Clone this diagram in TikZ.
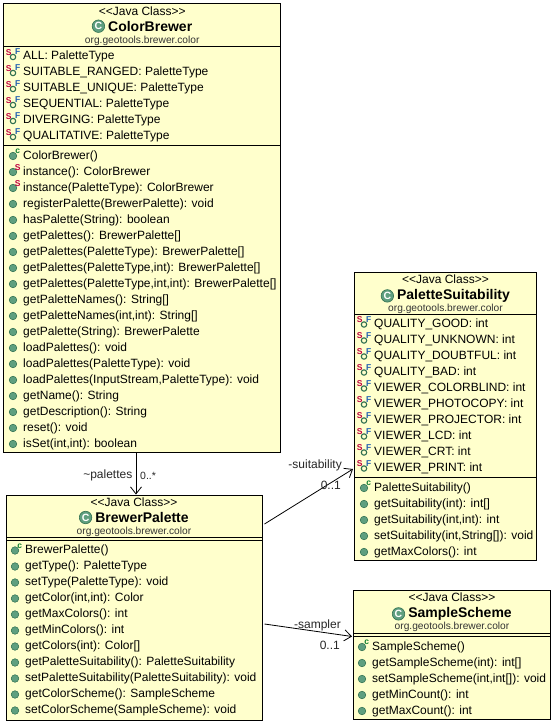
\documentclass[tikz,border=0pt]{standalone}
\usepackage{fontspec}
\setmainfont{Liberation Sans}
\usetikzlibrary{positioning, arrows.meta}

\definecolor{boxyellow}{HTML}{FFFFCC}
\definecolor{icongreen}{HTML}{5F9F7F}
\definecolor{iconedge}{HTML}{2F6F4F}
\definecolor{markred}{HTML}{C00040}
\definecolor{markblue}{HTML}{2060B0}
\definecolor{markgreen}{HTML}{108030}

\tikzset{
    classbox/.style={rectangle, draw=black, line width=1pt, fill=boxyellow, inner sep=0pt},
    divider/.style={draw=black, line width=1pt},
    member/.style={anchor=base west, inner sep=0pt, font=\fontsize{12}{14}\selectfont},
    stereo/.style={anchor=base, inner sep=0pt, font=\fontsize{12}{14}\selectfont},
    classtitle/.style={anchor=base, inner sep=0pt, font=\bfseries\fontsize{14}{16}\selectfont},
    package/.style={anchor=base, inner sep=0pt, text=black!80, font=\fontsize{10.2}{12}\selectfont},
    classicon/.style={circle, fill=icongreen, draw=iconedge, line width=0.6pt, minimum size=12.5pt, inner sep=0pt, text=white, font=\bfseries\fontsize{10.5}{10}\selectfont},
    methoddot/.style={circle, fill=icongreen, draw=iconedge, line width=0.5pt, minimum size=7.6pt, inner sep=0pt},
    fielddot/.style={circle, fill=boxyellow, draw=iconedge, line width=1.1pt, minimum size=5.4pt, inner sep=0pt},
    iconmark/.style={inner sep=0pt, font=\bfseries\fontsize{8.5}{9}\selectfont},
    assoc/.style={draw=black, line width=0.8pt, -{Straight Barb[length=7pt,width=11pt]}},
    assoclabel/.style={inner sep=0pt, font=\fontsize{12}{14}\selectfont, text=black!85},
}

% header of a class box: name, centre x, top y, title
\newcommand{\classheader}[4]{
    \node[stereo] (#1stereo) at (#2,#3+11.5) {<{}<Java Class>{}>};
    \node[classtitle] (#1title) at (#2+8,#3+27.5) {#4};
    \node[classicon, left=3pt of #1title.west] (#1icon) {C};
    \node[package] (#1package) at (#2,#3+39.5) {org.geotools.brewer.color};
}
% rows of fields: name, left x, first y, texts
\newcommand{\fieldrows}[4]{
    \foreach \rowtext [count=\i from 0] in {#4} {
        \node[member] (#1field\i) at (#2+19,#3+16*\i+4) {\rowtext};
        \node[fielddot] (#1fdot\i) at (#2+9,#3+16*\i+1.5) {};
        \node[iconmark, text=markred] (#1fs\i) at (#2+4.6,#3+16*\i-3) {S};
        \node[iconmark, text=markblue] (#1ff\i) at (#2+13.8,#3+16*\i-3.5) {F};
    }
}
% rows of methods, the first one is the constructor
\newcommand{\methodrows}[4]{
    \foreach \rowtext [count=\i from 0] in {#4} {
        \node[member] (#1method\i) at (#2+19,#3+16*\i+4) {\rowtext};
        \node[methoddot] (#1mdot\i) at (#2+9,#3+16*\i+1) {};
    }
    \node[iconmark, text=markgreen] (#1ctor) at (#2+13.8,#3-3.5) {c};
}

\begin{document}
\begin{tikzpicture}[x=1pt, y=-1pt]
    \useasboundingbox (0,0) rectangle (554,723);

    % Draw class boxes
    \node[classbox, minimum width=277pt, minimum height=448.6pt] (colorbrewer) at (142.2,228) {};
    \node[classbox, minimum width=256pt, minimum height=225pt] (brewerpalette) at (134,607.5) {};
    \node[classbox, minimum width=182pt, minimum height=288pt] (palettesuitability) at (445.5,416) {};
    \node[classbox, minimum width=197pt, minimum height=129pt] (samplescheme) at (452,654.5) {};

    % Draw dividers
    \draw[divider] (3.7,46.3) -- (280.7,46.3);
    \draw[divider] (3.7,145.3) -- (280.7,145.3);
    \draw[divider] (6,537) -- (262,537);
    \draw[divider] (6,540) -- (262,540);
    \draw[divider] (354.5,314) -- (536.5,314);
    \draw[divider] (354.5,477) -- (536.5,477);
    \draw[divider] (353.5,633) -- (550.5,633);
    \draw[divider] (353.5,636) -- (550.5,636);

    % ColorBrewer
    \classheader{cb}{142.2}{3.7}{ColorBrewer}
    \fieldrows{cb}{4}{55.5}{ALL: PaletteType, SUITABLE\_RANGED: PaletteType, SUITABLE\_UNIQUE: PaletteType, SEQUENTIAL: PaletteType, DIVERGING: PaletteType, QUALITATIVE: PaletteType}
    \methodrows{cb}{4}{155}{ColorBrewer(), instance(): ColorBrewer, instance(PaletteType): ColorBrewer, registerPalette(BrewerPalette): void, hasPalette(String): boolean, getPalettes(): BrewerPalette[], getPalettes(PaletteType): BrewerPalette[], {getPalettes(PaletteType,int): BrewerPalette[]}, {getPalettes(PaletteType,int,int): BrewerPalette[]}, getPaletteNames(): String[], {getPaletteNames(int,int): String[]}, getPalette(String): BrewerPalette, loadPalettes(): void, loadPalettes(PaletteType): void, {loadPalettes(InputStream,PaletteType): void}, getName(): String, getDescription(): String, reset(): void, {isSet(int,int): boolean}}
    \node[iconmark, text=markred] (cbstatica) at (17.8,167.5) {S};
    \node[iconmark, text=markred] (cbstaticb) at (17.8,183.5) {S};

    % BrewerPalette
    \classheader{bp}{134}{495}{BrewerPalette}
    \methodrows{bp}{6}{549.5}{BrewerPalette(), getType(): PaletteType, setType(PaletteType): void, {getColor(int,int): Color}, getMaxColors(): int, getMinColors(): int, getColors(int): Color[], getPaletteSuitability(): PaletteSuitability, setPaletteSuitability(PaletteSuitability): void, getColorScheme(): SampleScheme, setColorScheme(SampleScheme): void}

    % PaletteSuitability
    \classheader{ps}{445.5}{272}{PaletteSuitability}
    \fieldrows{ps}{355}{323}{QUALITY\_GOOD: int, QUALITY\_UNKNOWN: int, QUALITY\_DOUBTFUL: int, QUALITY\_BAD: int, VIEWER\_COLORBLIND: int, VIEWER\_PHOTOCOPY: int, VIEWER\_PROJECTOR: int, VIEWER\_LCD: int, VIEWER\_CRT: int, VIEWER\_PRINT: int}
    \methodrows{ps}{355}{487}{PaletteSuitability(), getSuitability(int): int[], {getSuitability(int,int): int}, {setSuitability(int,String[]): void}, getMaxColors(): int}

    % SampleScheme
    \classheader{ss}{452}{590}{SampleScheme}
    \methodrows{ss}{353}{646}{SampleScheme(), getSampleScheme(int): int[], {setSampleScheme(int,int[]): void}, getMinCount(): int, getMaxCount(): int}

    % Draw connections
    \draw[assoc] ([xshift=-6.2pt]colorbrewer.south) -- ([xshift=2pt]brewerpalette.north);
    \draw[assoc] ([xshift=2pt,yshift=83.5pt]brewerpalette.east) -- ([xshift=-1pt,yshift=-53pt]palettesuitability.west);
    \draw[assoc] ([xshift=2pt,yshift=-16.5pt]brewerpalette.east) -- ([xshift=-1pt,yshift=18pt]samplescheme.west);

    % Draw connection labels
    \node[assoclabel, anchor=east] (paletteslabel) at (132.5,475) {\textasciitilde palettes};
    \node[assoclabel, anchor=west, font=\fontsize{10.5}{12}\selectfont] (palettescount) at (140,476) {0..*};
    \node[assoclabel, anchor=east] (suitabilitylabel) at (342,465) {-suitability};
    \node[assoclabel, anchor=east] (suitabilitycount) at (341,485) {0..1};
    \node[assoclabel, anchor=east] (samplerlabel) at (341,625) {-sampler};
    \node[assoclabel, anchor=east] (samplercount) at (340,645) {0..1};
\end{tikzpicture}
\end{document}
